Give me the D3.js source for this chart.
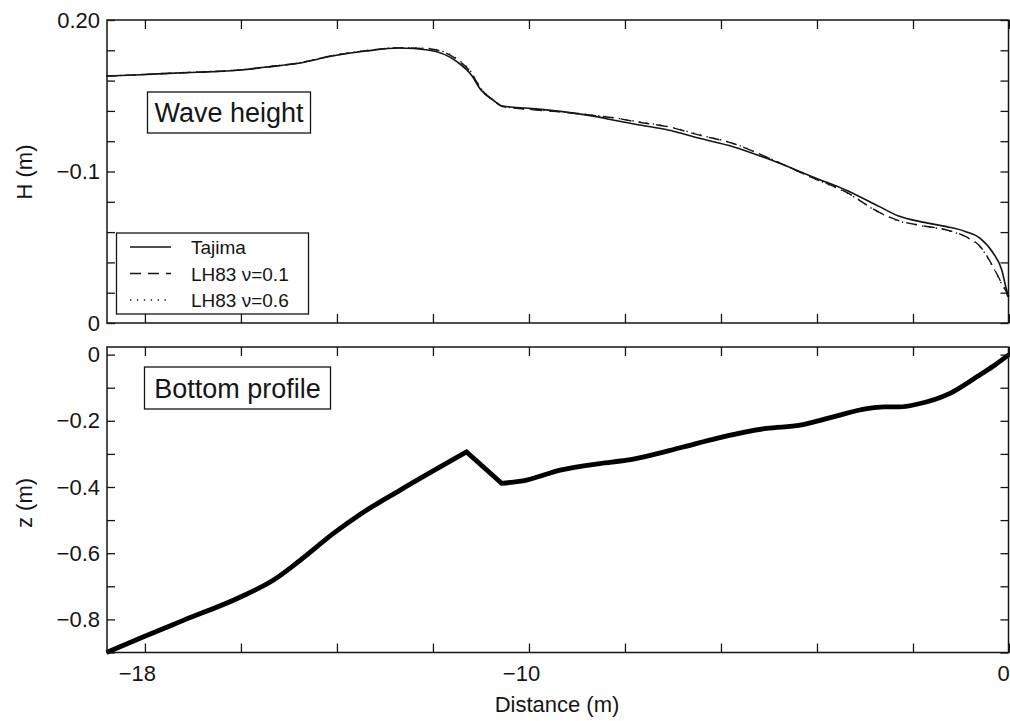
<!DOCTYPE html>
<html>
<head>
<meta charset="utf-8">
<script src="https://cdn.jsdelivr.net/npm/d3@7/dist/d3.min.js"></script>
<style>
  html, body { margin: 0; padding: 0; background: #fff; }
  svg { display: block; font-family: "Liberation Sans", Arial, Helvetica, sans-serif; }
</style>
</head>
<body>
<svg id="chart" width="1010" height="721"></svg>
<script>
// Distance from the shoreline (m), shared by the wave-height series
const distance = [-18.8, -18.2, -17.5, -16.9, -16.0, -15.5, -14.8, -14.1, -13.4, -12.7,
  -12.1, -11.5, -11.2, -11.0, -10.75, -10.55, -10.0, -9.3, -8.6, -8.25,
  -7.7, -7.1, -6.45, -5.75, -5.05, -4.35, -4.1, -3.4, -2.7, -2.3,
  -1.85, -1.3, -0.9, -0.6, -0.33, -0.15, -0.05, 0];

// Wave height H (m)
const tajima = [0.1630, 0.1637, 0.1648, 0.1655, 0.1670, 0.1688, 0.1714, 0.1762, 0.1795, 0.1815,
  0.1802, 0.1725, 0.1637, 0.1538, 0.1472, 0.1432, 0.1417, 0.1395, 0.1362, 0.1340,
  0.1307, 0.1274, 0.1219, 0.1164, 0.1087, 0.0999, 0.0966, 0.0878, 0.0768, 0.0706,
  0.0669, 0.0636, 0.0603, 0.0559, 0.0462, 0.0350, 0.0218, 0.0174];
const lh83nu01 = [0.1630, 0.1637, 0.1648, 0.1656, 0.1671, 0.1689, 0.1716, 0.1764, 0.1797, 0.1816,
  0.1810, 0.1740, 0.1650, 0.1545, 0.1470, 0.1428, 0.1410, 0.1392, 0.1368, 0.1355,
  0.1325, 0.1295, 0.1240, 0.1185, 0.1095, 0.0995, 0.0960, 0.0865, 0.0730, 0.0676,
  0.0645, 0.0614, 0.0570, 0.0505, 0.0370, 0.0260, 0.0200, 0.0150];
const lh83nu06 = [0.1631, 0.1638, 0.1649, 0.1657, 0.1672, 0.1690, 0.1717, 0.1765, 0.1798, 0.1817,
  0.1812, 0.1744, 0.1655, 0.1549, 0.1474, 0.1430, 0.1412, 0.1394, 0.1370, 0.1356,
  0.1327, 0.1297, 0.1242, 0.1186, 0.1096, 0.0994, 0.0959, 0.0863, 0.0728, 0.0674,
  0.0643, 0.0612, 0.0568, 0.0502, 0.0366, 0.0256, 0.0196, 0.0146];

const seriesNames = ["Tajima", "LH83 \u03bd=0.1", "LH83 \u03bd=0.6"];

// Bottom profile: distance (m) and bed elevation z (m)
const profileX = [-18.8, -18.04, -17.2, -16.02, -15.33, -14.77, -14.08, -13.52, -12.69,
  -11.3, -10.57, -10.05, -9.35, -8.52, -7.96, -6.79, -6.09, -5.05, -4.35,
  -3.66, -2.96, -2.6, -2.27, -1.92, -1.23, -0.67, -0.3, 0];
const profileZ = [-0.900, -0.853, -0.803, -0.733, -0.682, -0.622, -0.541, -0.483, -0.410,
  -0.294, -0.389, -0.379, -0.349, -0.329, -0.319, -0.279, -0.253, -0.223, -0.213,
  -0.188, -0.163, -0.158, -0.158, -0.150, -0.117, -0.067, -0.032, 0.0];
// Indices where the bed has a kink (crest and foot of the bar)
const profileBreaks = [9, 10];

// Ticks and tick labels
const xTicks = [-18, -16, -14, -12, -10, -8, -6, -4, -2, 0];
const xTickLabels = {"-18": "\u221218", "-10": "\u221210", "0": "0"};
const hTicks = [0, 0.02, 0.04, 0.06, 0.08, 0.1, 0.12, 0.14, 0.16, 0.18, 0.2];
const hTickLabels = {"0": "0", "0.1": "\u22120.1", "0.2": "0.20"};
const zTicks = [-0.9, -0.8, -0.7, -0.6, -0.5, -0.4, -0.3, -0.2, -0.1, 0];
const zTickLabels = {"0": "0", "-0.2": "\u22120.2", "-0.4": "\u22120.4", "-0.6": "\u22120.6", "-0.8": "\u22120.8"};

// ---- layout ----
const svg = d3.select("#chart");
const left = 107, right = 1008.5;
const top1 = 20, bot1 = 323;
const top2 = 347, bot2 = 652.5;
const ink = "#151515";

const x = d3.scaleLinear().domain([-18.79, 0]).range([left, 1009]);
const yH = d3.scaleLinear().domain([0, 0.2]).range([bot1, top1]);
const yZ = d3.scaleLinear().domain([-0.9, 0.023]).range([bot2, top2]);

const key = v => String(+v.toFixed(4));

function frameAxes(yScale, yTicks, yLabels, yTop, yBot, showX) {
  const g = svg.append("g");
  g.append("g").attr("transform", `translate(${left},0)`)
    .call(d3.axisLeft(yScale).tickValues(yTicks).tickSize(-8).tickPadding(7)
      .tickFormat(d => yLabels[key(d)] || ""));
  g.append("g").attr("transform", `translate(${right},0)`)
    .call(d3.axisRight(yScale).tickValues(yTicks).tickSize(-8).tickFormat(""));
  g.append("g").attr("transform", `translate(0,${yTop})`)
    .call(d3.axisTop(x).tickValues(xTicks).tickSize(-9).tickFormat(""));
  const b = g.append("g").attr("transform", `translate(0,${yBot})`)
    .call(d3.axisBottom(x).tickValues(xTicks).tickSize(-9).tickPadding(13)
      .tickFormat(d => showX ? (xTickLabels[key(d)] || "") : ""));
  g.selectAll(".domain").remove();
  g.selectAll(".tick line").attr("stroke", ink).attr("stroke-width", 1.3);
  g.selectAll(".tick text").attr("fill", ink).attr("font-size", 22)
    .attr("font-family", "'Liberation Sans', Arial, sans-serif");
  if (showX) {
    b.selectAll(".tick text").attr("dx", d => d === 0 ? -6 : -8);
  }
  g.append("rect").attr("x", left).attr("y", yTop)
    .attr("width", right - left).attr("height", yBot - yTop)
    .attr("fill", "none").attr("stroke", ink).attr("stroke-width", 1.5);
  return g;
}

// ---- wave height panel ----
const hLine = d3.line().x((d, i) => x(distance[i])).y(d => yH(d)).curve(d3.curveMonotoneX);
const seriesData = [tajima, lh83nu01, lh83nu06];
const dashes = [null, "11,7", "1.4,5.5"];
const widths = [1.6, 1.4, 1.4];

svg.append("g").selectAll("path").data(seriesData).join("path")
  .attr("d", d => hLine(d))
  .attr("fill", "none").attr("stroke", ink)
  .attr("stroke-width", (d, i) => widths[i])
  .attr("stroke-dasharray", (d, i) => dashes[i]);

frameAxes(yH, hTicks, hTickLabels, top1, bot1, false);

svg.append("rect").attr("x", 147.5).attr("y", 92).attr("width", 163).attr("height", 41)
  .attr("fill", "#fff").attr("stroke", ink).attr("stroke-width", 1.3);
svg.append("text").attr("x", 229).attr("y", 122).attr("text-anchor", "middle")
  .attr("font-size", 27).attr("fill", ink).text("Wave height");

// legend
const leg = svg.append("g");
leg.append("rect").attr("x", 116.5).attr("y", 233).attr("width", 192).attr("height", 81)
  .attr("fill", "#fff").attr("stroke", ink).attr("stroke-width", 1.3);
seriesNames.forEach((name, i) => {
  const cy = 247 + i * 26.5;
  leg.append("line").attr("x1", 130).attr("x2", 171).attr("y1", cy).attr("y2", cy)
    .attr("stroke", ink).attr("stroke-width", widths[i])
    .attr("stroke-dasharray", dashes[i]);
  leg.append("text").attr("x", 191).attr("y", cy + 7).attr("font-size", 19)
    .attr("fill", ink).text(name);
});

svg.append("text").attr("transform", `translate(32,172) rotate(-90)`)
  .attr("text-anchor", "middle").attr("font-size", 22).attr("fill", ink).text("H (m)");

// ---- bottom profile panel ----
// smooth between kinks, joined into one continuous path so the kinks stay sharp
const pts = profileX.map((v, i) => [v, profileZ[i]]);
const zLine = d3.line().x(d => x(d[0])).y(d => yZ(d[1])).curve(d3.curveMonotoneX);
const cuts = [0, ...profileBreaks, pts.length - 1];
let dStr = "";
for (let k = 0; k < cuts.length - 1; k++) {
  const seg = zLine(pts.slice(cuts[k], cuts[k + 1] + 1));
  dStr += k === 0 ? seg : seg.replace(/^M/, "L");
}
svg.append("path").attr("d", dStr)
  .attr("fill", "none").attr("stroke", "#000").attr("stroke-width", 4.8)
  .attr("stroke-linejoin", "miter");

frameAxes(yZ, zTicks, zTickLabels, top2, bot2, true);

svg.append("rect").attr("x", 144.5).attr("y", 367).attr("width", 186).attr("height", 42)
  .attr("fill", "#fff").attr("stroke", ink).attr("stroke-width", 1.3);
svg.append("text").attr("x", 237.5).attr("y", 397.5).attr("text-anchor", "middle")
  .attr("font-size", 27).attr("fill", ink).text("Bottom profile");

svg.append("text").attr("transform", `translate(32,503) rotate(-90)`)
  .attr("text-anchor", "middle").attr("font-size", 22).attr("fill", ink).text("z (m)");

svg.append("text").attr("x", 557).attr("y", 712).attr("text-anchor", "middle")
  .attr("font-size", 22).attr("fill", ink).text("Distance (m)");
</script>
</body>
</html>
